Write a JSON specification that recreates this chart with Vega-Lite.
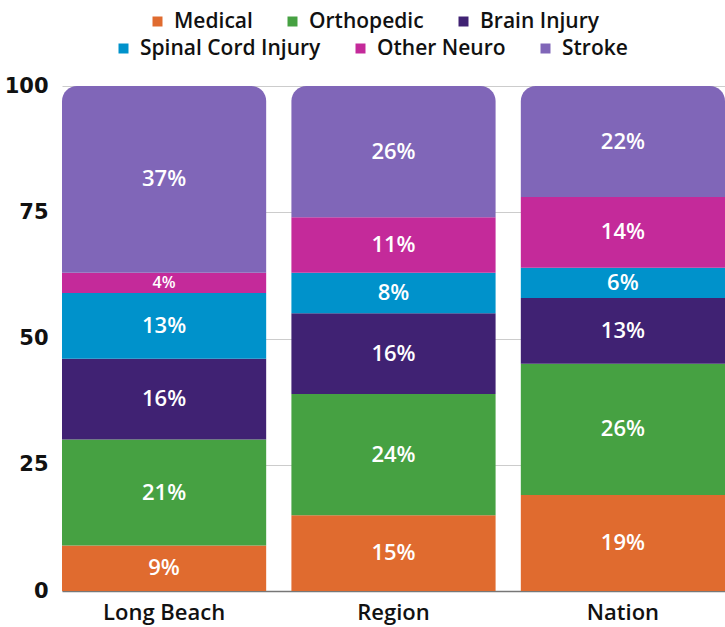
{
  "$schema": "https://vega.github.io/schema/vega-lite/v6.json",
  "width": 725,
  "height": 627,
  "autosize": {"type": "fit", "contains": "padding"},
  "padding": {"left": 4, "top": 75, "right": 0, "bottom": 4},
  "background": "white",
  "config": {
    "font": "Open Sans",
    "view": {"stroke": null},
    "axis": {"title": null, "labelColor": "#111"},
    "legend": {
      "orient": "none", "title": null, "columns": 3, "gridAlign": "none",
      "symbolType": "square", "symbolSize": 100, "symbolStrokeWidth": 0,
      "labelFontSize": 21, "labelFont": "Open Sans", "labelFontWeight": 600, "labelColor": "#111",
      "columnPadding": 29, "labelOffset": 6, "labelLimit": 300
    }
  },
  "data": {"values": [
    {"area": "Long Beach", "type": "Medical", "order": 1, "value": 9},
    {"area": "Long Beach", "type": "Orthopedic", "order": 2, "value": 21},
    {"area": "Long Beach", "type": "Brain Injury", "order": 3, "value": 16},
    {"area": "Long Beach", "type": "Spinal Cord Injury", "order": 4, "value": 13},
    {"area": "Long Beach", "type": "Other Neuro", "order": 5, "value": 4},
    {"area": "Long Beach", "type": "Stroke", "order": 6, "value": 37},
    {"area": "Region", "type": "Medical", "order": 1, "value": 15},
    {"area": "Region", "type": "Orthopedic", "order": 2, "value": 24},
    {"area": "Region", "type": "Brain Injury", "order": 3, "value": 16},
    {"area": "Region", "type": "Spinal Cord Injury", "order": 4, "value": 8},
    {"area": "Region", "type": "Other Neuro", "order": 5, "value": 11},
    {"area": "Region", "type": "Stroke", "order": 6, "value": 26},
    {"area": "Nation", "type": "Medical", "order": 1, "value": 19},
    {"area": "Nation", "type": "Orthopedic", "order": 2, "value": 26},
    {"area": "Nation", "type": "Brain Injury", "order": 3, "value": 13},
    {"area": "Nation", "type": "Spinal Cord Injury", "order": 4, "value": 6},
    {"area": "Nation", "type": "Other Neuro", "order": 5, "value": 14},
    {"area": "Nation", "type": "Stroke", "order": 6, "value": 22}
  ]},
  "transform": [
    {"stack": "value", "groupby": ["area"], "sort": [{"field": "order"}], "as": ["y0", "y1"]},
    {"calculate": "(datum.y0 + datum.y1) / 2", "as": "mid"},
    {"calculate": "datum.value + '%'", "as": "label"}
  ],
  "encoding": {
    "x": {
      "field": "area", "type": "nominal", "sort": ["Long Beach", "Region", "Nation"],
      "scale": {"paddingInner": 0.11, "paddingOuter": 0},
      "axis": {"labelAngle": 0, "ticks": false, "domain": true, "domainColor": "#777", "domainWidth": 1.5, "labelPadding": 11, "grid": false,
        "labelFont": "Open Sans", "labelFontSize": 22, "labelFontWeight": 600}
    }
  },
  "layer": [
    {
      "mark": {"type": "bar"},
      "transform": [{"filter": "datum.type !== 'Stroke'"}],
      "encoding": {
        "y": {"field": "y0", "type": "quantitative", "scale": {"domain": [0, 100]},
          "axis": {"values": [0, 25, 50, 75, 100], "domain": false, "ticks": false, "gridColor": "#cccccc", "labelPadding": 14,
            "labelFont": "DejaVu Sans", "labelFontSize": 21, "labelFontWeight": "bold"}},
        "y2": {"field": "y1"},
        "color": {
          "field": "type", "type": "nominal",
          "scale": {
            "domain": ["Medical", "Orthopedic", "Brain Injury", "Spinal Cord Injury", "Other Neuro", "Stroke"],
            "range": ["#E06B2F", "#46A142", "#402273", "#0092CB", "#C42A9A", "#8066B8"]
          },
          "legend": {"values": ["Medical", "Orthopedic", "Brain Injury"], "legendX": 85, "legendY": -75}
        }
      }
    },
    {
      "mark": {"type": "bar", "cornerRadiusTopLeft": 15, "cornerRadiusTopRight": 15},
      "transform": [{"filter": "datum.type === 'Stroke'"}],
      "encoding": {
        "y": {"field": "y0", "type": "quantitative"},
        "y2": {"field": "y1"},
        "fill": {
          "field": "type", "type": "nominal",
          "scale": {
            "domain": ["Spinal Cord Injury", "Other Neuro", "Stroke"],
            "range": ["#0092CB", "#C42A9A", "#8066B8"]
          },
          "legend": {"values": ["Spinal Cord Injury", "Other Neuro", "Stroke"], "legendX": 51, "legendY": -48}
        }
      }
    },
    {
      "mark": {"type": "text", "color": "white", "font": "Open Sans", "fontWeight": 600, "baseline": "middle"},
      "encoding": {
        "y": {"field": "mid", "type": "quantitative"},
        "text": {"field": "label"},
        "size": {"condition": {"test": "datum.value < 5", "value": 16}, "value": 22}
      }
    }
  ]
}
